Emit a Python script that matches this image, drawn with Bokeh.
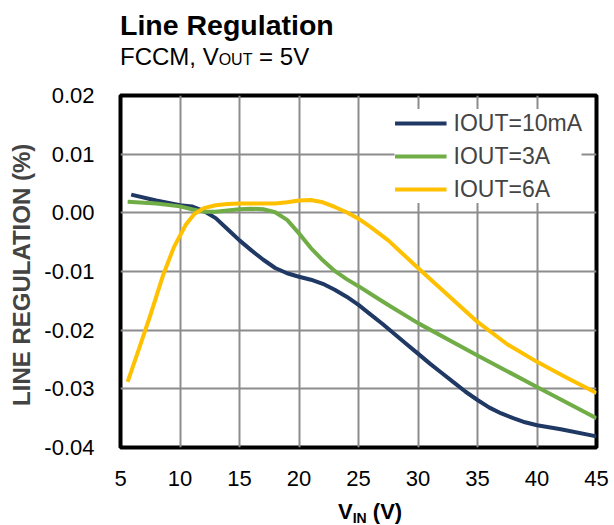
from bokeh.plotting import figure
from bokeh.models import Range1d, FixedTicker, PrintfTickFormatter, Legend, LegendItem, Div
from bokeh.layouts import column
from bokeh.embed import file_html
from bokeh.resources import INLINE

# ---- data ----
vin_10mA = [5.9, 8, 10, 11, 12, 13, 14, 15, 16, 17, 18, 19, 20, 21, 22, 23, 24, 25, 26, 27, 28, 29,
            30, 31, 32, 33, 34, 35, 36, 37, 38, 39, 40, 42, 45]
reg_10mA = [0.0031, 0.0021, 0.0013, 0.0011, 0.0003, -0.0009, -0.0028, -0.0047, -0.0064, -0.0080, -0.0094,
            -0.0103, -0.0109, -0.0114, -0.0121, -0.0131, -0.0143, -0.0157, -0.0173, -0.0189, -0.0206, -0.0223,
            -0.0240, -0.0257, -0.0273, -0.0289, -0.0305, -0.0319, -0.0332, -0.0342, -0.0350, -0.0357,
            -0.0362, -0.0369, -0.0381]

vin_3A = [5.6, 8, 10, 11, 12, 13, 14, 15, 16, 17, 18, 19, 20, 21, 22, 23, 24, 25, 26, 27.5, 30, 35, 40, 45]
reg_3A = [0.0019, 0.0016, 0.0011, 0.0006, 0.0002, 0.0002, 0.0004, 0.0006, 0.0007, 0.0006, 0.0001, -0.0012,
          -0.0035, -0.0060, -0.0081, -0.0099, -0.0113, -0.0125, -0.0138, -0.0157, -0.0188, -0.0243,
          -0.0297, -0.0350]

vin_6A = [5.6, 6.5, 7.5, 8.6, 9.5, 10.5, 11.2, 12, 13, 14, 15, 16.5, 18, 19, 20, 21, 22, 23, 24, 25, 26,
          27.5, 30, 32.5, 35, 37.5, 40, 42.5, 45]
reg_6A = [-0.0288, -0.0235, -0.0175, -0.0105, -0.0058, -0.0020, -0.0002, 0.0008, 0.0013, 0.0015, 0.0016,
          0.0016, 0.0016, 0.0018, 0.0021, 0.0022, 0.0018, 0.0010, 0.0001, -0.0010, -0.0024, -0.0047,
          -0.0094, -0.0140, -0.0186, -0.0224, -0.0254, -0.0281, -0.0307]

series_names = ["IOUT=10mA", "IOUT=3A", "IOUT=6A"]
series_colors = ["#203864", "#70AD47", "#FFC000"]

x_ticks = [5, 10, 15, 20, 25, 30, 35, 40, 45]
y_ticks = [-0.04, -0.03, -0.02, -0.01, 0.0, 0.01, 0.02]

FONT = "Liberation Sans"
W = 614

# ---- title / subtitle (HTML, subscripts) ----
title_div = Div(width=W, height=42, margin=0, text=(
    f'<div style="position:relative;width:{W}px;height:42px;">'
    f'<span style="position:absolute;left:120px;top:11px;font-family:\'{FONT}\';font-weight:bold;'
    f'font-size:28.5px;line-height:28.5px;white-space:nowrap;color:black;">Line Regulation</span></div>'))

sub_div = Div(width=W, height=36, margin=0, text=(
    f'<div style="position:relative;width:{W}px;height:36px;font-family:\'{FONT}\';color:black;">'
    f'<span style="position:absolute;left:120px;top:3px;font-size:24px;line-height:24px;white-space:nowrap;">'
    f'FCCM, V<span style="font-size:16px;">OUT</span> = 5V</span></div>'))

# ---- main plot ----
p = figure(frame_width=476, frame_height=352, output_backend="svg", toolbar_location=None,
           x_range=Range1d(5, 45), y_range=Range1d(-0.04, 0.02),
           min_border_left=120, min_border_right=18, min_border_top=17, min_border_bottom=49)
p.title.visible = False
p.background_fill_color = "white"
p.border_fill_color = "white"
p.outline_line_color = "black"
p.outline_line_width = 4

for ax in (p.xaxis[0], p.yaxis[0]):
    ax.axis_line_color = None
    ax.major_tick_line_color = None
    ax.minor_tick_line_color = None
    ax.major_tick_out = 0
    ax.major_tick_in = 0
    ax.minor_tick_out = 0
    ax.minor_tick_in = 0
    ax.major_label_text_font = FONT
    ax.major_label_text_font_size = "22px"
    ax.major_label_text_color = "black"

p.xaxis.ticker = FixedTicker(ticks=x_ticks)
p.yaxis.ticker = FixedTicker(ticks=y_ticks)
p.yaxis.formatter = PrintfTickFormatter(format="%.2f")
p.xaxis.major_label_standoff = 23
p.yaxis.major_label_standoff = 26

p.yaxis.axis_label = "LINE REGULATION  (%)"
p.yaxis.axis_label_text_font = FONT
p.yaxis.axis_label_text_font_style = "bold"
p.yaxis.axis_label_text_font_size = "24px"
p.yaxis.axis_label_standoff = 6

p.xgrid.ticker = FixedTicker(ticks=x_ticks)
p.ygrid.ticker = FixedTicker(ticks=y_ticks)
p.grid.grid_line_color = "#8c8c8c"
p.grid.grid_line_width = 2

r1 = p.line(vin_10mA, reg_10mA, line_color=series_colors[0], line_width=4, line_join="round")
r2 = p.line(vin_3A, reg_3A, line_color=series_colors[1], line_width=4, line_join="round")
r3 = p.line(vin_6A, reg_6A, line_color=series_colors[2], line_width=4, line_join="round")

legend = Legend(items=[LegendItem(label=series_names[0], renderers=[r1]),
                       LegendItem(label=series_names[1], renderers=[r2]),
                       LegendItem(label=series_names[2], renderers=[r3])],
                location="top_right", label_text_font=FONT, label_text_font_size="23px",
                glyph_width=52, glyph_height=28, label_height=28, label_standoff=7,
                spacing=5, padding=7, margin=14,
                background_fill_color="white", background_fill_alpha=1.0,
                border_line_color=None)
p.add_layout(legend, "center")

# ---- x-axis title with subscript ----
xt_div = Div(width=W, height=29, margin=0, styles={"overflow": "visible"}, text=(
    f'<div style="position:relative;width:{W}px;height:29px;font-family:\'{FONT}\';font-weight:bold;'
    f'color:black;overflow:visible;">'
    f'<span style="position:absolute;left:338px;top:5px;font-size:22px;line-height:22px;white-space:nowrap;">'
    f'V<span style="font-size:14px;position:relative;top:4px;">IN</span> (V)</span></div>'))

layout = column(title_div, sub_div, p, xt_div, spacing=0)
open("out.html", "w").write(file_html(layout, INLINE))
